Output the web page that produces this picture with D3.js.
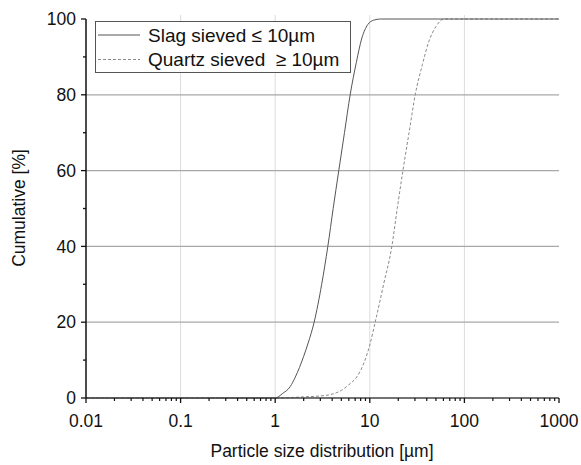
<!DOCTYPE html>
<html><head><meta charset="utf-8">
<script src="https://cdn.jsdelivr.net/npm/d3@7"></script>
<style>body{margin:0;background:#fff}svg{display:block}text{font-family:"Liberation Sans",Arial,sans-serif;fill:#111;white-space:pre}</style>
</head><body><svg id="c" width="581" height="465"></svg>
<script>
const slagSize = [0.01, 1.0, 1.2, 1.44, 1.63, 2.0, 2.23, 2.58, 3.1, 3.6, 4.1, 4.7, 5.4, 6.2, 7.2, 8.25, 9.5, 11, 13, 1000];
const slagCum  = [0, 0, 1.2, 3, 5.5, 11, 14.5, 20, 30, 40, 50, 60, 70, 80, 88.5, 95, 98.5, 99.7, 100, 100];
const quartzSize = [0.01, 1, 2, 3.2, 5, 6, 7.3, 8.9, 10, 11.4, 14, 17.1, 19.5, 22.4, 26, 30.2, 36, 42, 50, 61, 1000];
const quartzCum  = [0, 0, 0.3, 0.6, 2, 3.5, 5.6, 10, 14, 20, 30, 40, 50, 60, 70, 80, 88, 94, 98, 100, 100];
const xTicks = [0.01, 0.1, 1, 10, 100, 1000];
const xTickLabels = ["0.01", "0.1", "1", "10", "100", "1000"];
const yTicks = [0, 20, 40, 60, 80, 100];
const yMinor = [10, 30, 50, 70, 90];
const legendLabels = ["Slag sieved \u2264 10\u00b5m", "Quartz sieved  \u2265 10\u00b5m"];

const svg = d3.select("#c");
const x = d3.scaleLog().domain([0.01, 1000]).range([86, 559]);
const y = d3.scaleLinear().domain([0, 100]).range([398, 19]);

// vertical grid
svg.append("g").selectAll("line").data(xTicks.slice(1, 5)).join("line")
  .attr("x1", d => x(d)).attr("x2", d => x(d)).attr("y1", 15).attr("y2", 398)
  .attr("stroke", "#dcdcdc").attr("stroke-width", 1);
// horizontal grid
svg.append("g").selectAll("line").data(yTicks.slice(1, 5)).join("line")
  .attr("x1", 86).attr("x2", 559).attr("y1", d => y(d)).attr("y2", d => y(d))
  .attr("stroke", "#a8a8a8").attr("stroke-width", 1.3);

// curves
const line = d3.line().x(d => x(d[0])).y(d => y(d[1])).curve(d3.curveMonotoneX);
const slag = slagSize.map((s, i) => [s, slagCum[i]]);
const quartz = quartzSize.map((s, i) => [s, quartzCum[i]]);
svg.append("path").datum(quartz).attr("d", line).attr("fill", "none")
  .attr("stroke", "#8a8a8a").attr("stroke-width", 1).attr("stroke-dasharray", "3,2");
svg.append("path").datum(slag).attr("d", line).attr("fill", "none")
  .attr("stroke", "#555").attr("stroke-width", 1);

// x axis
const minorX = [];
for (let e = -2; e < 3; e++) for (let m = 2; m <= 9; m++) minorX.push(m * Math.pow(10, e));
const xa = svg.append("g").attr("transform", "translate(0,398)");
xa.append("line").attr("x1", 86).attr("x2", 559).attr("stroke", "#444").attr("stroke-width", 1.5);
xa.selectAll(".mj").data(xTicks).join("line").attr("class", "mj")
  .attr("x1", d => x(d)).attr("x2", d => x(d)).attr("y1", 0).attr("y2", 5).attr("stroke", "#111").attr("stroke-width", 1.3);
xa.selectAll(".mn").data(minorX).join("line").attr("class", "mn")
  .attr("x1", d => x(d)).attr("x2", d => x(d)).attr("y1", 0).attr("y2", 3).attr("stroke", "#111").attr("stroke-width", 1.2);
xa.selectAll("text").data(xTicks).join("text")
  .attr("x", d => x(d)).attr("y", 29).attr("text-anchor", "middle").attr("font-size", 17.5)
  .text((d, i) => xTickLabels[i]);

// y axis
const ya = svg.append("g").attr("transform", "translate(86,0)");
ya.append("line").attr("y1", 19).attr("y2", 398).attr("stroke", "#111").attr("stroke-width", 1.5);
ya.selectAll(".mj").data(yTicks).join("line").attr("class", "mj")
  .attr("x1", -5).attr("x2", 0).attr("y1", d => y(d)).attr("y2", d => y(d)).attr("stroke", "#111").attr("stroke-width", 1.3);
ya.selectAll(".mn").data(yMinor).join("line").attr("class", "mn")
  .attr("x1", -3).attr("x2", 0).attr("y1", d => y(d)).attr("y2", d => y(d)).attr("stroke", "#111").attr("stroke-width", 1.3);
ya.selectAll("text").data(yTicks).join("text")
  .attr("x", -10).attr("y", d => y(d)).attr("dy", "0.35em").attr("text-anchor", "end").attr("font-size", 17.5)
  .text(d => d);

// titles
svg.append("text").attr("x", 322).attr("y", 457).attr("text-anchor", "middle").attr("font-size", 17.5)
  .text("Particle size distribution [\u00b5m]");
svg.append("text").attr("transform", "translate(25,208) rotate(-90)").attr("text-anchor", "middle").attr("font-size", 17.5)
  .text("Cumulative [%]");

// legend
const lg = svg.append("g");
lg.append("rect").attr("x", 95.5).attr("y", 21.5).attr("width", 255).attr("height", 51)
  .attr("fill", "#fff").attr("stroke", "#555").attr("stroke-width", 1);
const styles = [{c: "#555", d: null}, {c: "#8a8a8a", d: "3,2"}];
legendLabels.forEach((t, i) => {
  const yy = 35 + i * 24.5;
  lg.append("line").attr("x1", 98).attr("x2", 140).attr("y1", yy).attr("y2", yy)
    .attr("stroke", styles[i].c).attr("stroke-width", 1).attr("stroke-dasharray", styles[i].d);
  lg.append("text").attr("x", 148).attr("y", yy).attr("dy", "0.35em").attr("font-size", 19).text(t);
});
</script></body></html>
